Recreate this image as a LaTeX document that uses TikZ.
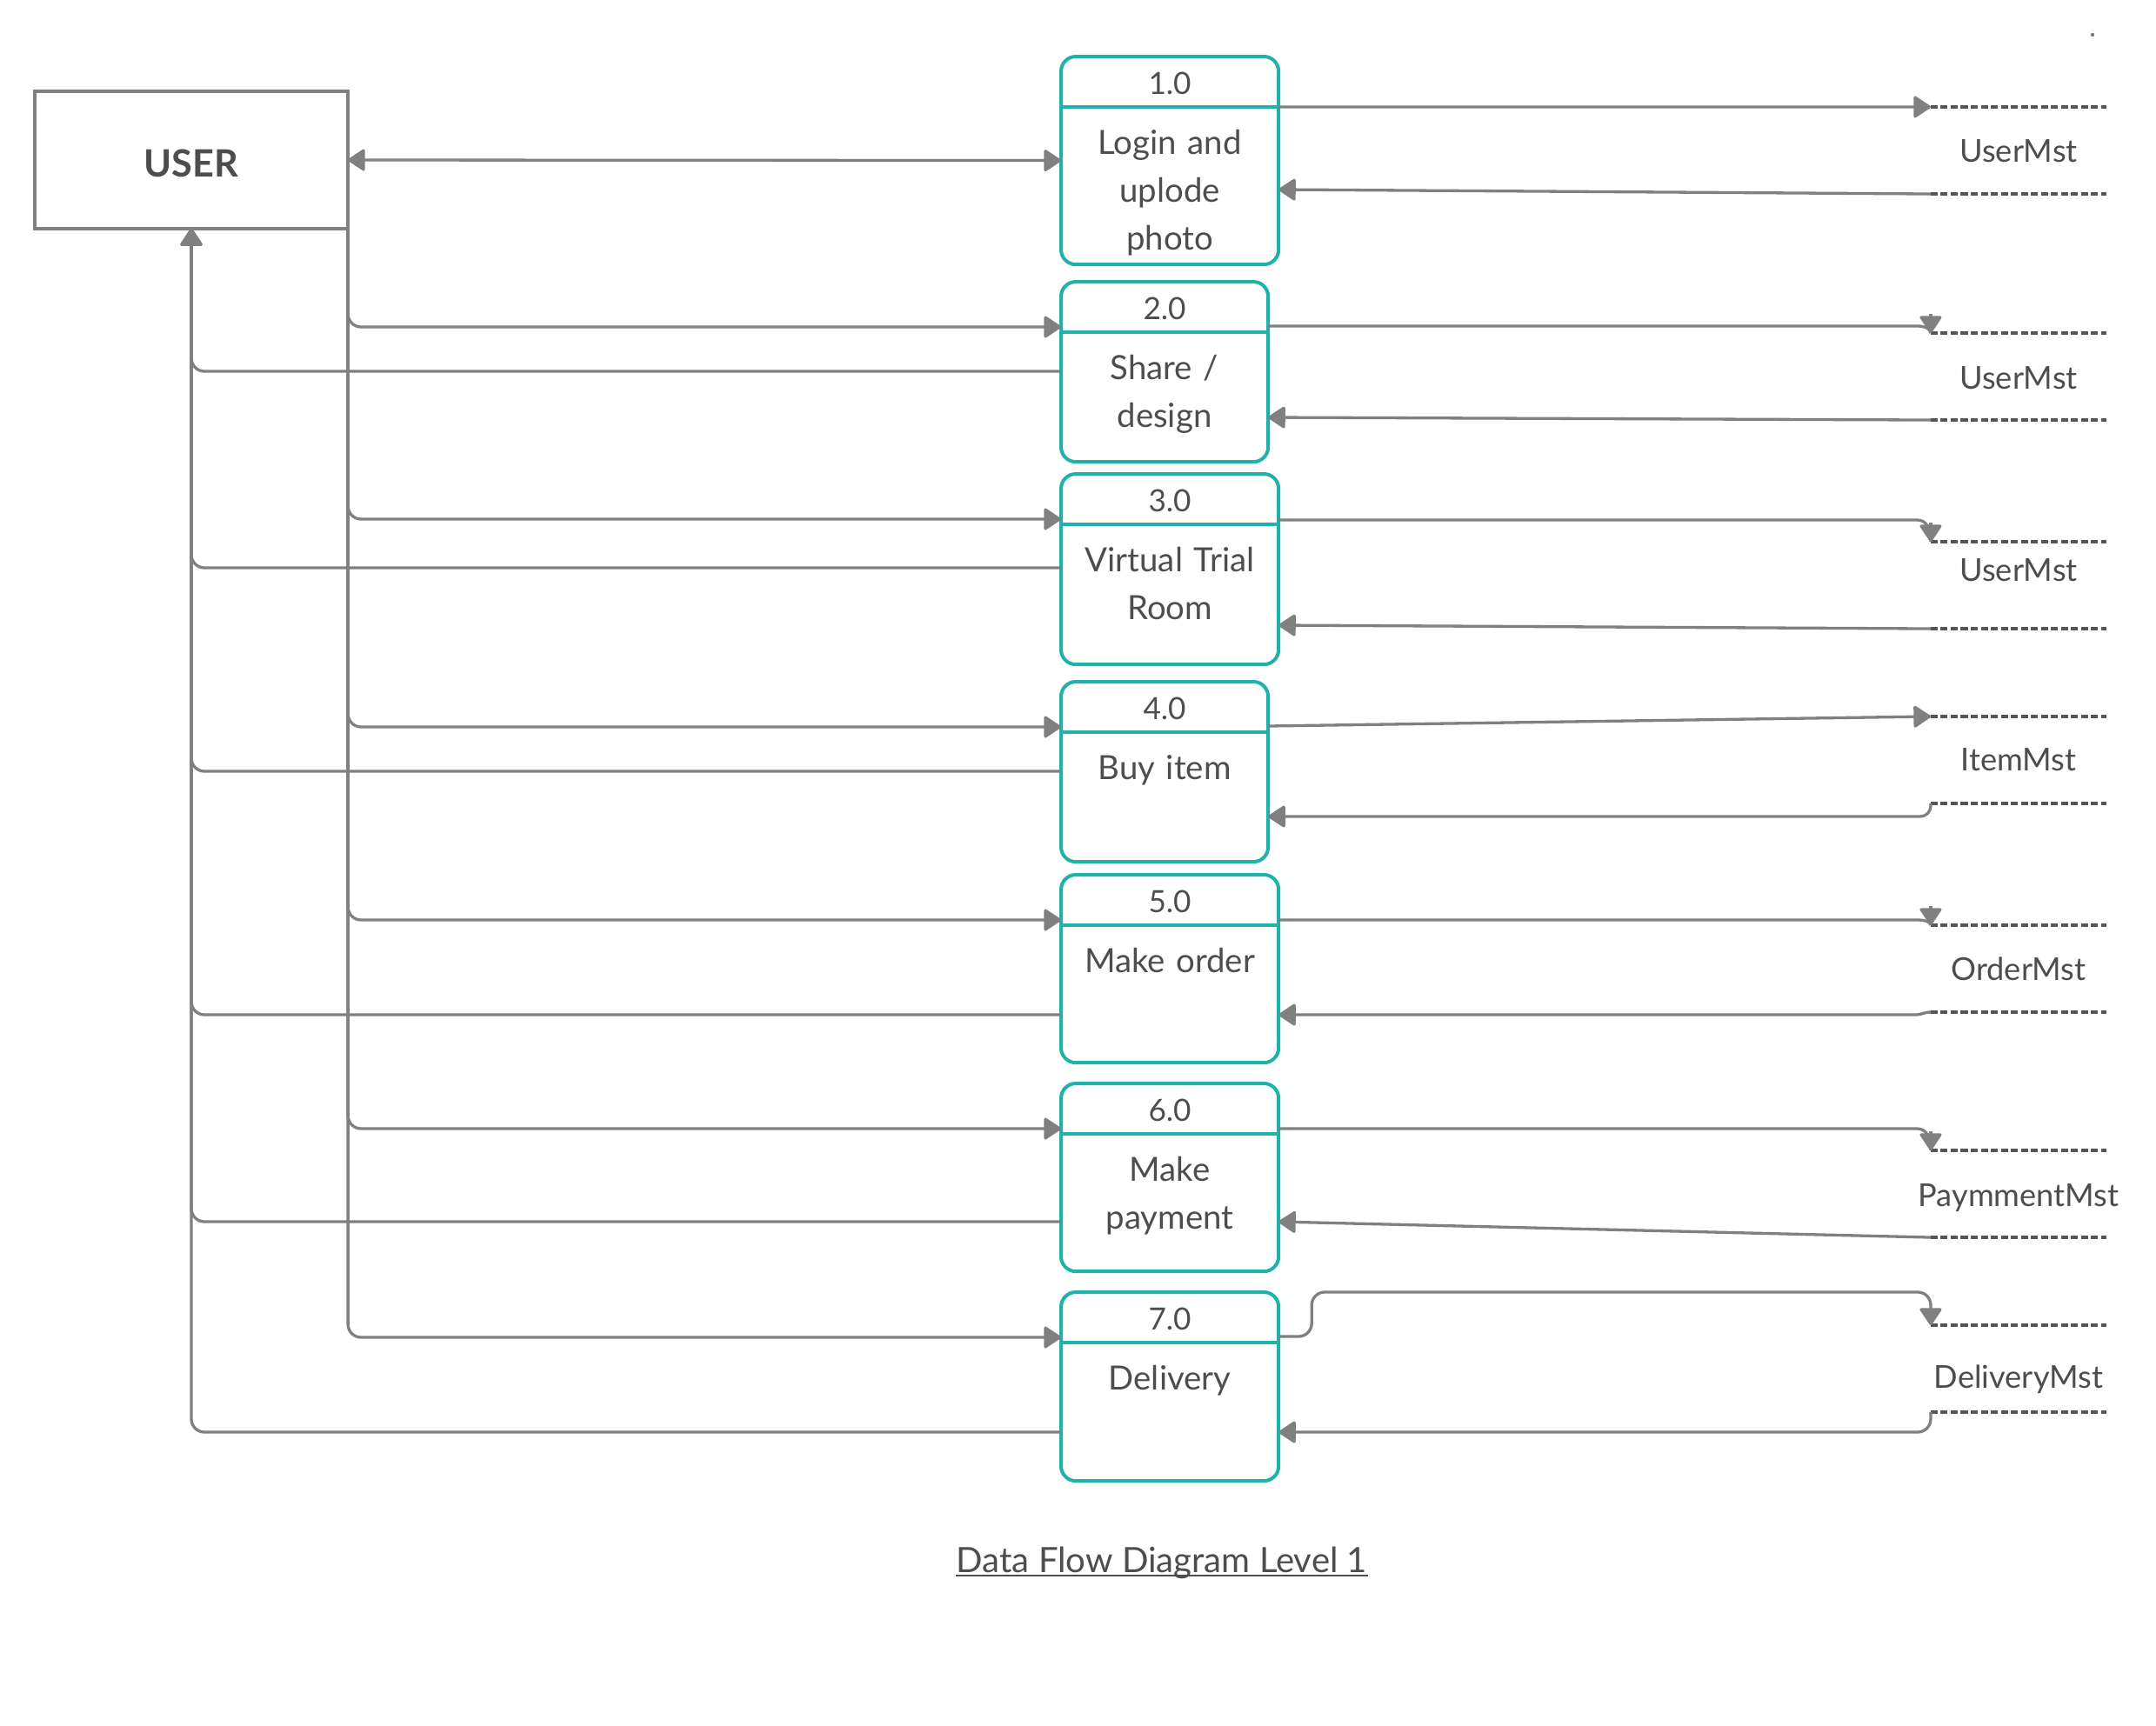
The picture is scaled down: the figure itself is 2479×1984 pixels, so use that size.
\documentclass[tikz,border=0pt]{standalone}
\usepackage{fontspec}
\setmainfont{Lato}
\usetikzlibrary{calc,arrows.meta}
\definecolor{linegray}{HTML}{808080}
\definecolor{textgray}{HTML}{4D4D4D}
\definecolor{procteal}{HTML}{20B2AA}
\definecolor{storegray}{HTML}{555555}
\tikzset{
  >={Triangle[length=0.21cm,width=0.27cm,round]},
  entity/.style={draw=linegray, line width=0.033cm, outer sep=0pt, minimum width=3.6cm, minimum height=1.58cm,
    text=textgray, text height=0.4cm, font=\bfseries\fontsize{12.3}{15}\selectfont},
  proc/.style={draw=procteal, line width=0.04cm, outer sep=0pt, rounded corners=0.17cm, anchor=north west},
  num/.style={text=textgray, font=\fontsize{10}{12}\selectfont, anchor=base, inner sep=0pt},
  ptext/.style={text=textgray, font=\fontsize{10.9}{15.7}\selectfont, text width=2.3cm, align=center, anchor=base, inner sep=0pt},
  store/.style={minimum width=2.02cm, minimum height=1cm, inner sep=0pt, outer sep=0pt},
  slabel/.style={text=textgray, font=\fontsize{10.3}{12}\selectfont, anchor=base, inner sep=0pt},
  storeline/.style={draw=storegray, line width=0.04cm, dash pattern=on 0.08cm off 0.035cm},
  line/.style={color=linegray, line width=0.033cm},
  flow/.style={line, rounded corners=0.15cm, ->},
  tip/.style={line, ->},
  title/.style={text=textgray, font=\fontsize{11.4}{14}\selectfont, anchor=base, inner sep=0pt}
}

\begin{document}
\begin{tikzpicture}[x=0.01cm,y=-0.01cm]
\useasboundingbox (0,0) rectangle (2479,1984);
\node[entity] (U) at (220,184) {USER};
\foreach \i/\t/\w/\h/\txt in {1/65/2.5cm/2.39cm/{Login and\\uplode\\photo},
    2/324/2.38cm/2.07cm/{Share /\\design}, 3/545/2.5cm/2.19cm/{Virtual Trial\\Room},
    4/784/2.38cm/2.07cm/{Buy item}, 5/1006/2.5cm/2.16cm/{Make order},
    6/1246/2.5cm/2.16cm/{Make\\payment}, 7/1486/2.5cm/2.17cm/{Delivery}}{
  \node[proc, minimum width=\w, minimum height=\h] (P\i) at (1220,\t) {};
  \draw[procteal, line width=0.04cm] ($(P\i.north west)+(0,58)$) -- ($(P\i.north east)+(0,58)$);
  \node[num] (N\i) at ($(P\i.north)+(0,43)$) {\i.0};
  \node[ptext] (T\i) at ($(P\i.north)+(0,112)$) {\txt};
}
\foreach \i/\y/\d/\txt in {1/173/64/UserMst, 2/433/65/UserMst, 3/673/46/UserMst, 4/874/63/ItemMst,
    5/1114/64/OrderMst, 6/1373/64/PaymmentMst, 7/1574/72/DeliveryMst}{
  \node[store] (S\i) at (2321,\y) {};
  \node[slabel] (L\i) at ($(S\i.north)+(0,\d)$) {\txt};
  \draw[storeline] (S\i.north west) -- (S\i.north east) (S\i.south west) -- (S\i.south east);
}
\draw[flow, <->] (U.east) -- (P1.west);
\foreach \i/\b in {2/103, 3/108, 4/103, 5/161, 6/159, 7/161}{
  \draw[flow] (U.south east) |- ($(P\i.north west)+(0,52)$);
  \draw[flow] ($(P\i.north west)+(0,\b)$) -| (U.south);
}
\draw[flow] ($(P1.north east)+(0,58)$) -- (S1.north west);
\draw[flow] (S1.south west) -- ($(P1.north east)+(0,153)$);
\draw[line] ($(P2.north east)+(0,51)$) -- ($(S2.north west)+(-16,-8)$) .. controls +(9,0) and +(0,-5) .. (S2.north west);
\draw[tip] ($(S2.north west)+(0,-22)$) -- (S2.north west);
\draw[flow] (S2.south west) -- ($(P2.north east)+(0,156)$);
\draw[line] ($(P3.north east)+(0,53)$) -- ($(S3.north west)+(-16,-25)$) .. controls +(12,0) and +(0,-14) .. (S3.north west);
\draw[tip] ($(S3.north west)+(0,-22)$) -- (S3.north west);
\draw[flow] (S3.south west) -- ($(P3.north east)+(0,174)$);
\draw[flow] ($(P4.north east)+(0,51)$) -- (S4.north west);
\draw[flow, rounded corners=0.12cm] (S4.south west) |- ($(P4.north east)+(0,155)$);
\draw[line] ($(P5.north east)+(0,52)$) -- ($(S5.north west)+(-16,-6)$) .. controls +(9,0) and +(0,-4) .. (S5.north west);
\draw[tip] ($(S5.north west)+(0,-22)$) -- (S5.north west);
\draw[line, ->] (S5.south west) .. controls +(-8,0) and +(8,0) .. ($(S5.south west)+(-18,3)$) -- ($(P5.north east)+(0,161)$);
\draw[line] ($(P6.north east)+(0,52)$) -- ($(S6.north west)+(-16,-25)$) .. controls +(12,0) and +(0,-14) .. (S6.north west);
\draw[tip] ($(S6.north west)+(0,-22)$) -- (S6.north west);
\draw[flow] (S6.south west) -- ($(P6.north east)+(0,159)$);
\draw[flow] ($(P7.north east)+(0,51)$) -- ++(38,0) |- ($(S7.north west)+(0,-38)$) -- (S7.north west);
\draw[flow] (S7.south west) |- ($(P7.north east)+(0,161)$);
\fill[linegray] (2406,40) circle (2.2);
\node[title] (D) at (1336,1808) {Data Flow Diagram Level 1};
\draw[textgray, line width=0.028cm] ($(D.base west)+(0,4)$) -- ($(D.base east)+(0,4)$);
\end{tikzpicture}
\end{document}
